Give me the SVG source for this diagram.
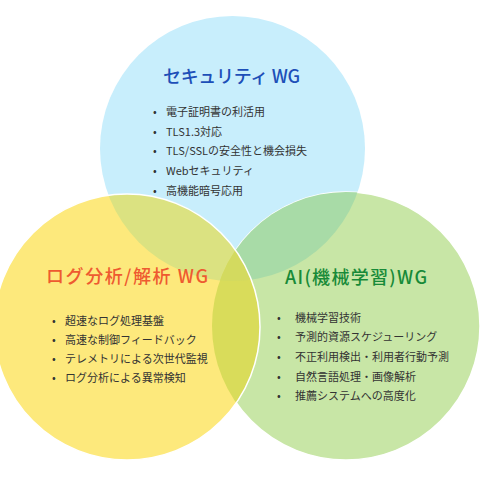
<svg xmlns="http://www.w3.org/2000/svg" width="480" height="480" viewBox="0 0 480 480">
<style>
.t{font-family:"Noto Sans CJK JP","Noto Sans",sans-serif;font-size:18px;font-weight:500}
.b{font-family:"Noto Sans CJK JP","Noto Sans",sans-serif;font-size:11px;fill:#333}
.edge{fill:none;stroke:#fff;stroke-width:1.5}
</style>
<defs>
<clipPath id="cb"><circle cx="232.5" cy="148.5" r="132.5"/></clipPath>
<clipPath id="cg"><circle cx="346" cy="326" r="134"/></clipPath>
</defs>
<rect width="480" height="480" fill="#fff"/>
<g id="security-wg">
<circle cx="232.5" cy="148.5" r="132.5" fill="#c8eefc"/>
</g>
<g id="ai-wg">
<circle cx="346" cy="326" r="134" fill="#c8e6a6"/>
<circle cx="346" cy="326" r="134" class="edge"/>
<circle cx="346" cy="326" r="134" fill="#a8dba7" clip-path="url(#cb)"/>
</g>
<g id="log-wg">
<circle cx="127" cy="327" r="133" fill="#fde97c"/>
<circle cx="127" cy="327" r="133" fill="#dbe281" clip-path="url(#cb)"/>
<g clip-path="url(#cg)"><circle cx="127" cy="327" r="133" fill="#d9dc5a"/>
<circle cx="127" cy="327" r="133" fill="#d3da5f" clip-path="url(#cb)"/></g>
<circle cx="127" cy="327" r="133" class="edge"/>
</g>
<g id="security-text">
<text class="t" x="163" y="83" fill="#1d4fb8" textLength="137" lengthAdjust="spacing">セキュリティ WG</text>
<g class="b">
<text x="153" y="116">•</text><text x="166" y="116">電子証明書の利活用</text>
<text x="153" y="136">•</text><text x="166" y="136">TLS1.3対応</text>
<text x="153" y="155">•</text><text x="166" y="155">TLS/SSLの安全性と機会損失</text>
<text x="153" y="175">•</text><text x="166" y="175">Webセキュリティ</text>
<text x="153" y="195">•</text><text x="166" y="195">高機能暗号応用</text>
</g>
</g>
<g id="log-text">
<text class="t" x="46" y="283" fill="#ee5a30" textLength="162" lengthAdjust="spacing">ログ分析/解析 WG</text>
<g class="b">
<text x="52" y="325">•</text><text x="65" y="325">超速なログ処理基盤</text>
<text x="52" y="344">•</text><text x="65" y="344">高速な制御フィードバック</text>
<text x="52" y="363">•</text><text x="65" y="363">テレメトリによる次世代監視</text>
<text x="52" y="382">•</text><text x="65" y="382">ログ分析による異常検知</text>
</g>
</g>
<g id="ai-text">
<text class="t" x="285" y="284" fill="#178a38" textLength="142" lengthAdjust="spacing">AI(機械学習)WG</text>
<g class="b">
<text x="277" y="322">•</text><text x="295" y="322">機械学習技術</text>
<text x="277" y="341">•</text><text x="295" y="341">予測的資源スケジューリング</text>
<text x="277" y="361">•</text><text x="295" y="361">不正利用検出・利用者行動予測</text>
<text x="277" y="381">•</text><text x="295" y="381">自然言語処理・画像解析</text>
<text x="277" y="400">•</text><text x="295" y="400">推薦システムへの高度化</text>
</g>
</g>
<g id="connectors"/>
</svg>
